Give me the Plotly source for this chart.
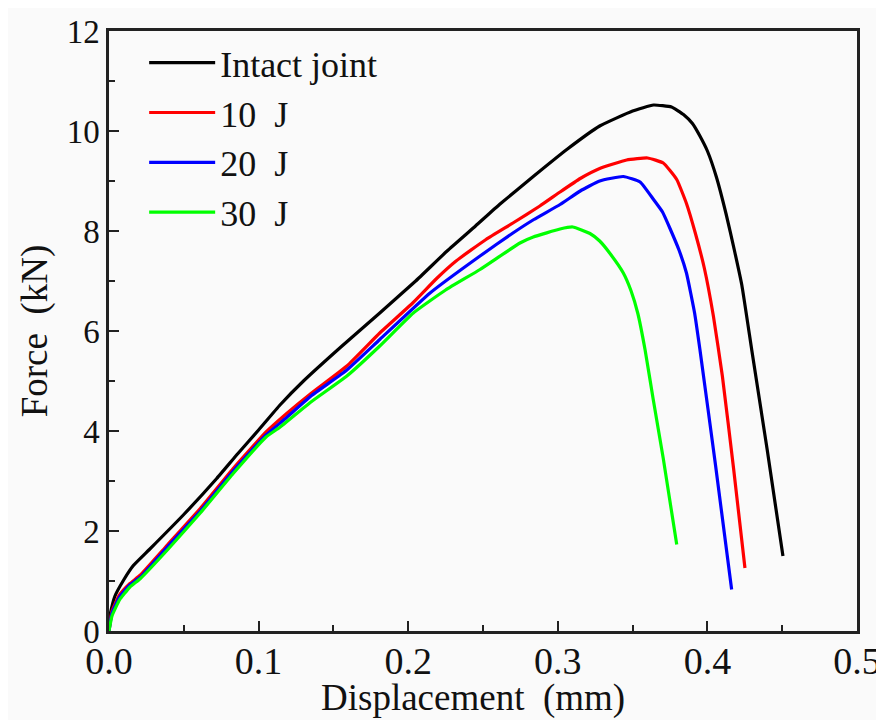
import plotly.graph_objects as go

# ---- data ----
series_names = ["Intact joint", "10\u00a0 J", "20\u00a0 J", "30\u00a0 J"]
series_colors = ["#000000", "#ff0000", "#0000ff", "#00ff00"]

intact_x = [0.000, 0.001, 0.004, 0.010, 0.016, 0.027, 0.050, 0.072, 0.0862, 0.100, 0.1143,
            0.130, 0.155, 0.181, 0.205, 0.226, 0.245, 0.261, 0.284, 0.306, 0.328, 0.350,
            0.364, 0.376, 0.384, 0.390, 0.395, 0.400, 0.406, 0.4125, 0.418, 0.423, 0.4296,
            0.440, 0.4505]
intact_y = [0.15, 0.36, 0.70, 1.03, 1.30, 1.63, 2.33, 3.05, 3.55, 4.02, 4.52,
            5.00, 5.68, 6.36, 7.00, 7.60, 8.10, 8.53, 9.10, 9.63, 10.10, 10.40,
            10.52, 10.48, 10.33, 10.15, 9.90, 9.60, 9.08, 8.34, 7.62, 6.92, 5.63,
            3.62, 1.50]

j10_x = [0.000, 0.002, 0.007, 0.014, 0.021, 0.039, 0.061, 0.083, 0.105, 0.118, 0.135,
         0.159, 0.181, 0.203, 0.219, 0.232, 0.252, 0.270, 0.288, 0.3015, 0.315, 0.328,
         0.346, 0.360, 0.3705, 0.3795, 0.386, 0.392, 0.398, 0.404, 0.410, 0.4175, 0.4251]
j10_y = [0.00, 0.40, 0.72, 0.95, 1.12, 1.72, 2.45, 3.25, 3.98, 4.33, 4.75,
         5.30, 5.96, 6.56, 7.05, 7.40, 7.83, 8.16, 8.50, 8.78, 9.05, 9.25,
         9.42, 9.46, 9.36, 9.03, 8.55, 7.95, 7.25, 6.30, 5.10, 3.25, 1.26]

j20_x = [0.000, 0.002, 0.007, 0.014, 0.021, 0.039, 0.061, 0.083, 0.105, 0.118, 0.135,
         0.159, 0.181, 0.2146, 0.248, 0.270, 0.284, 0.3015, 0.315, 0.328, 0.3438, 0.355,
         0.364, 0.370, 0.375, 0.381, 0.386, 0.3915, 0.395, 0.4055, 0.4162]
j20_y = [0.00, 0.36, 0.68, 0.92, 1.08, 1.68, 2.40, 3.20, 3.92, 4.25, 4.70,
         5.22, 5.83, 6.76, 7.50, 7.96, 8.23, 8.53, 8.80, 9.00, 9.09, 8.98,
         8.63, 8.38, 8.05, 7.62, 7.16, 6.35, 5.63, 3.30, 0.83]

j30_x = [0.000, 0.002, 0.007, 0.014, 0.021, 0.039, 0.061, 0.083, 0.105, 0.114, 0.135,
         0.159, 0.181, 0.2034, 0.225, 0.248, 0.2747, 0.2836, 0.3015, 0.310, 0.3215, 0.328,
         0.3349, 0.3438, 0.349, 0.3535, 0.3583, 0.3638, 0.3705, 0.3795]
j30_y = [0.00, 0.30, 0.62, 0.88, 1.05, 1.62, 2.36, 3.15, 3.88, 4.07, 4.58,
         5.10, 5.70, 6.36, 6.82, 7.23, 7.76, 7.88, 8.04, 8.08, 7.95, 7.80,
         7.55, 7.16, 6.80, 6.35, 5.63, 4.63, 3.45, 1.73]

x_tick_vals = [0.0, 0.1, 0.2, 0.3, 0.4, 0.5]
x_tick_text = ["0.0", "0.1", "0.2", "0.3", "0.4", "0.5"]
y_tick_vals = [0, 2, 4, 6, 8, 10, 12]
y_tick_text = ["0", "2", "4", "6", "8", "10", "12"]

x_title = "Displacement\u00a0 (mm)"
y_title = "Force\u00a0 (kN)"

# ---- figure ----
FONT = "Liberation Serif, Times New Roman, serif"
BG = "#fafafa"

fig = go.Figure()
all_x = [intact_x, j10_x, j20_x, j30_x]
all_y = [intact_y, j10_y, j20_y, j30_y]
for name, color, xs, ys in zip(series_names, series_colors, all_x, all_y):
    fig.add_trace(go.Scatter(
        x=xs, y=ys, mode="lines", name=name, legendgroup=name,
        line=dict(color=color, width=3.2, shape="spline", smoothing=0.4),
    ))

axis_common = dict(
    showline=True, linecolor="#222222", linewidth=2.5, mirror=True,
    ticks="inside", ticklen=10, tickwidth=2, tickcolor="#222222",
    showgrid=False, zeroline=False,
    minor=dict(ticks="inside", ticklen=6, tickwidth=2, tickcolor="#222222", showgrid=False),
)

fig.update_xaxes(
    range=[0, 0.5], tickvals=x_tick_vals, ticktext=x_tick_text,
    minor_dtick=0.05, minor_tick0=0,
    tickfont=dict(family=FONT, size=38, color="#111111"),
    ticklabelstandoff=-5,
    **axis_common,
)
fig.update_yaxes(
    range=[0, 12], tickvals=y_tick_vals, ticktext=y_tick_text,
    minor_dtick=1, minor_tick0=0,
    tickfont=dict(family=FONT, size=33, color="#111111"),
    title=dict(text=y_title, font=dict(family=FONT, size=37, color="#111111"), standoff=8),
    **axis_common,
)

# x-axis title as a text annotation so it can sit at the reference's lower position
fig.add_annotation(
    text=x_title, xref="paper", yref="paper", x=0.487, y=-0.112,
    xanchor="center", yanchor="middle", showarrow=False, borderpad=0,
    font=dict(family=FONT, size=37, color="#111111"),
)

fig.update_layout(
    width=876, height=712,
    margin=dict(l=101, r=27, t=23, b=89, autoexpand=False),
    paper_bgcolor=BG, plot_bgcolor=BG,
    showlegend=True,
    legend=dict(
        x=0.047, y=0.997, xanchor="left", yanchor="top",
        bgcolor="rgba(0,0,0,0)", borderwidth=0,
        font=dict(family=FONT, size=36, color="#111111"),
        itemwidth=66, tracegroupgap=0,
    ),
)

fig.write_html("out.html")
